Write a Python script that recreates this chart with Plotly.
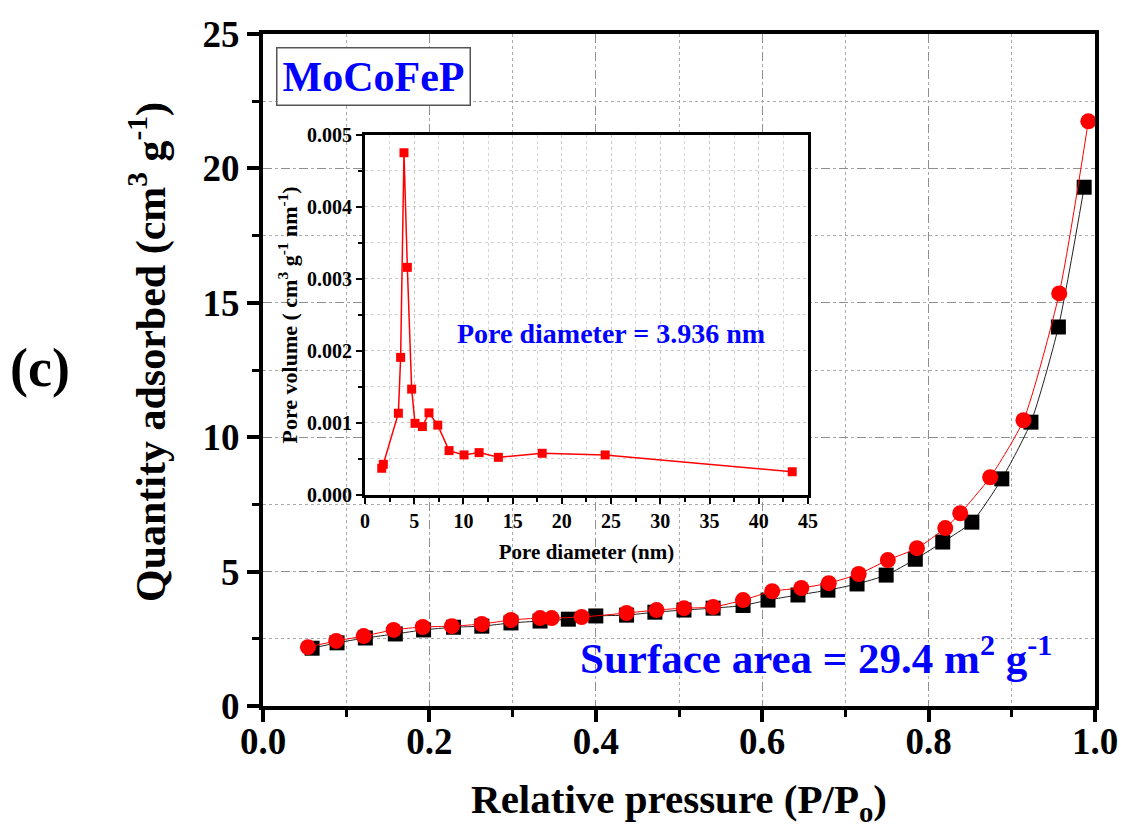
import plotly.graph_objects as go

# ---------------- data ----------------
# adsorption branch (black squares)
ads_p = [0.059, 0.089, 0.123, 0.159, 0.193, 0.229, 0.263, 0.298, 0.333, 0.367,
         0.400, 0.437, 0.471, 0.506, 0.541, 0.577, 0.607, 0.643, 0.679, 0.714,
         0.749, 0.784, 0.817, 0.852, 0.888, 0.923, 0.956, 0.987]
ads_q = [2.15, 2.35, 2.53, 2.68, 2.83, 2.93, 2.97, 3.09, 3.16, 3.23,
         3.35, 3.38, 3.49, 3.57, 3.64, 3.74, 3.94, 4.13, 4.31, 4.54,
         4.87, 5.46, 6.10, 6.84, 8.45, 10.56, 14.10, 19.30]

# desorption branch (red circles)
des_p = [0.054, 0.088, 0.121, 0.157, 0.192, 0.227, 0.263, 0.298, 0.333, 0.347,
         0.383, 0.437, 0.473, 0.506, 0.541, 0.577, 0.612, 0.647, 0.680, 0.716,
         0.751, 0.786, 0.820, 0.838, 0.874, 0.914, 0.957, 0.992]
des_q = [2.19, 2.42, 2.60, 2.83, 2.94, 2.97, 3.05, 3.20, 3.27, 3.27,
         3.31, 3.46, 3.57, 3.64, 3.68, 3.94, 4.27, 4.39, 4.57, 4.91,
         5.43, 5.87, 6.62, 7.17, 8.51, 10.63, 15.35, 21.75]

# pore size distribution (inset)
pore_d = [1.70, 1.86, 3.39, 3.62, 3.96, 4.30, 4.74, 5.08, 5.83, 6.50,
          7.39, 8.54, 10.06, 11.59, 13.55, 18.0, 24.4, 43.4]
pore_v = [0.000371, 0.000426, 0.001135, 0.00191, 0.00475, 0.00316, 0.00147,
          0.000995, 0.00095, 0.00114, 0.00097, 0.000616, 0.000556, 0.000588,
          0.000523, 0.000579, 0.000556, 0.000324]

main_xticks = [0.0, 0.2, 0.4, 0.6, 0.8, 1.0]
main_yticks = [0, 5, 10, 15, 20, 25]
inset_xticks = [0, 5, 10, 15, 20, 25, 30, 35, 40, 45]
inset_yticks = [0.000, 0.001, 0.002, 0.003, 0.004, 0.005]

FONT = "Liberation Serif"
BLUE = "#0000ff"

fig = go.Figure()

fig.add_trace(go.Scatter(
    x=ads_p, y=ads_q, mode="lines+markers", showlegend=False,
    line=dict(color="#222222", width=1, shape="spline", smoothing=0.6),
    marker=dict(symbol="square", size=15, color="black"),
    xaxis="x", yaxis="y"))
fig.add_trace(go.Scatter(
    x=des_p, y=des_q, mode="lines+markers", showlegend=False,
    line=dict(color="#ff0000", width=1, shape="spline", smoothing=0.6),
    marker=dict(symbol="circle", size=16, color="#ff0000"),
    xaxis="x", yaxis="y"))
fig.add_trace(go.Scatter(
    x=pore_d, y=pore_v, mode="lines+markers", showlegend=False,
    line=dict(color="#ff0000", width=1.5),
    marker=dict(symbol="square", size=9, color="#ff0000"),
    xaxis="x2", yaxis="y2"))

main_axis_common = dict(
    showline=True, linewidth=4, linecolor="black", mirror=True,
    ticks="outside", ticklen=12, tickwidth=4, tickcolor="black",
    showgrid=True, griddash="dash", gridcolor="#8f8f8f", gridwidth=1,
    zeroline=False, automargin=False, ticklabeloverflow="allow",
    tickfont=dict(family=FONT, size=37, color="black", weight="bold"),
)

inset_axis_common = dict(
    showline=True, linewidth=3, linecolor="black", mirror=True,
    ticks="outside", ticklen=6, tickwidth=2, tickcolor="black",
    showgrid=True, griddash="dot", gridcolor="#c8c8c8", gridwidth=1,
    zeroline=False, automargin=False,
    tickfont=dict(family=FONT, size=20, color="black", weight="bold"),
)

fig.update_layout(
    width=1121, height=828,
    margin=dict(l=263, r=26, t=34, b=122),
    paper_bgcolor="white", plot_bgcolor="white",
    font=dict(family=FONT, color="black"),
    xaxis=dict(
        domain=[0, 1], range=[0, 1.0],
        tickvals=main_xticks, ticktext=[f"{v:.1f}" for v in main_xticks],
        ticklabelstandoff=-12,
        minor=dict(dtick=0.1, tick0=0, ticks="outside", ticklen=7, tickwidth=3,
                   tickcolor="black", showgrid=True, griddash="dot",
                   gridcolor="#aaaaaa", gridwidth=1),
        title=dict(text="Relative pressure (P/P<sub>o</sub>)", standoff=29,
                   font=dict(family=FONT, size=41, color="black", weight="bold")),
        **main_axis_common),
    yaxis=dict(
        domain=[0, 1], range=[0, 25],
        tickvals=main_yticks, ticktext=[str(v) for v in main_yticks],
        minor=dict(dtick=2.5, tick0=0, ticks="outside", ticklen=7, tickwidth=3,
                   tickcolor="black", showgrid=True, griddash="dot",
                   gridcolor="#aaaaaa", gridwidth=1),
        **main_axis_common),
    xaxis2=dict(
        domain=[0.1226, 0.655], range=[0, 45], anchor="y2",
        tickvals=inset_xticks, ticktext=[str(v) for v in inset_xticks],
        minor=dict(dtick=2.5, tick0=0, ticks="outside", ticklen=4, tickwidth=2,
                   tickcolor="black", showgrid=True, griddash="dot",
                   gridcolor="#d6d6d6", gridwidth=1),
        title=dict(text="Pore diameter (nm)", standoff=14,
                   font=dict(family=FONT, size=21, color="black", weight="bold")),
        **inset_axis_common),
    yaxis2=dict(
        domain=[0.314, 0.85], range=[0, 0.005], anchor="x2",
        tickvals=inset_yticks, ticktext=[f"{v:.3f}" for v in inset_yticks],
        minor=dict(dtick=0.0005, tick0=0, ticks="outside", ticklen=4, tickwidth=2,
                   tickcolor="black", showgrid=True, griddash="dot",
                   gridcolor="#d6d6d6", gridwidth=1),
        title=dict(text="Pore volume ( cm<sup>3</sup> g<sup>-1</sup> nm<sup>-1</sup>)", standoff=4,
                   font=dict(family=FONT, size=22, color="black", weight="bold")),
        **inset_axis_common),
    shapes=[dict(type="rect", xref="x2 domain", yref="y2 domain",
                 x0=0, x1=1, y0=0, y1=1, fillcolor="white",
                 line=dict(width=0), layer="below")],
    annotations=[
        dict(text="Quantity adsorbed (cm<sup>3</sup> g<sup>-1</sup>)", xref="paper", yref="paper",
             x=-0.138, y=0.527, textangle=-90, showarrow=False,
             xanchor="center", yanchor="middle",
             font=dict(family=FONT, size=42, color="black", weight="bold")),
        dict(text="MoCoFeP", xref="paper", yref="paper", x=0.1328, y=0.9368,
             showarrow=False, xanchor="center", yanchor="middle",
             font=dict(family=FONT, size=42, color=BLUE, weight="bold"),
             bordercolor="#555555", borderwidth=1.5, borderpad=5, bgcolor="white"),
        dict(text="Pore diameter = 3.936 nm", xref="paper", yref="paper",
             x=0.418, y=0.555, showarrow=False, xanchor="center", yanchor="middle",
             font=dict(family=FONT, size=28, color=BLUE, weight="bold")),
        dict(text="Surface area = 29.4 m<sup>2</sup> g<sup>-1</sup>", xref="paper", yref="paper",
             x=0.665, y=0.076, showarrow=False, xanchor="center", yanchor="middle",
             font=dict(family=FONT, size=43, color=BLUE, weight="bold")),
        dict(text="(c)", xref="paper", yref="paper", x=-0.268, y=0.503,
             showarrow=False, xanchor="center", yanchor="middle",
             font=dict(family=FONT, size=54, color="black", weight="bold")),
    ],
)

fig.write_html(
    "out.html",
    config={"displayModeBar": False},
    post_script="document.body.style.margin='0';document.body.style.overflow='hidden';",
)
